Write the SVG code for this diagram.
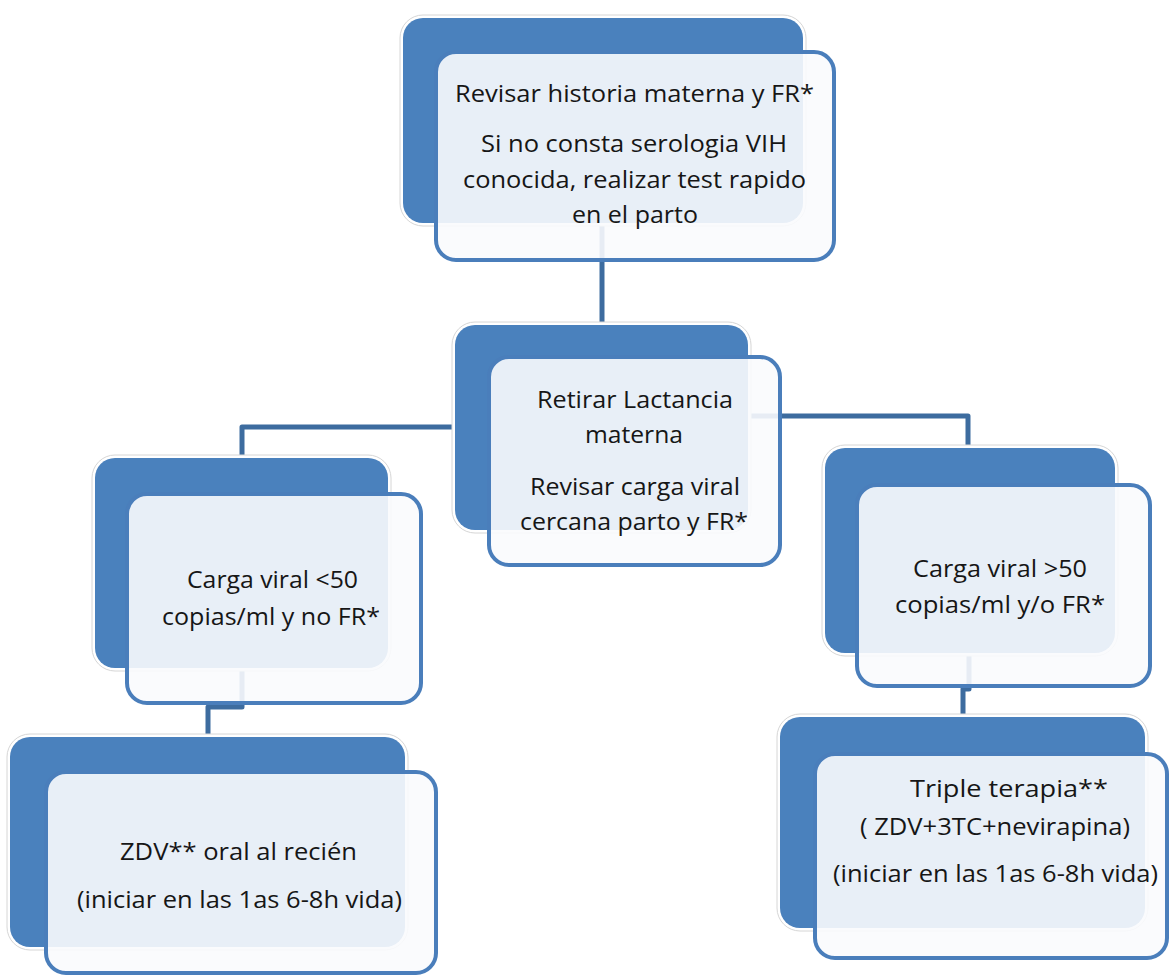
<svg xmlns="http://www.w3.org/2000/svg" width="1171" height="978" viewBox="0 0 1171 978">
<style>
.halo{fill:#ffffff;stroke:#d6d6d6;stroke-width:1}
.back{fill:#4a81bd;stroke:none}
.front{fill:#fafbfd;fill-opacity:0.9;stroke:#4a7ebb;stroke-width:4}
.conn{fill:none;stroke:#3d6c9f;stroke-width:5;stroke-linejoin:round}
text{font-family:"Open Sans","Noto Sans","Liberation Sans",sans-serif;font-size:23px;fill:#161616;text-anchor:middle}
</style>
<rect width="1171" height="978" fill="#ffffff"/>
<g id="connectors">
<path class="conn" d="M602,223 V325"/>
<path class="conn" d="M455,427 H242 V458"/>
<path class="conn" d="M748,416 H968 V448"/>
<path class="conn" d="M242,668 V707 H208 V737"/>
<path class="conn" d="M969,653 V689 H963 V717"/>
</g>
<g id="n1">
<rect class="halo" x="400" y="15" width="406" height="211" rx="23"/>
<rect class="back" x="403" y="18" width="400" height="205" rx="20"/>
<rect class="front" x="436" y="52" width="398" height="208" rx="20"/>
<text x="634.5" y="102" textLength="359" lengthAdjust="spacingAndGlyphs">Revisar historia materna y FR*</text>
<text x="634" y="152" textLength="306" lengthAdjust="spacingAndGlyphs">Si no consta serologia VIH</text>
<text x="634.5" y="188" textLength="343" lengthAdjust="spacingAndGlyphs">conocida, realizar test rapido</text>
<text x="635" y="223" textLength="126" lengthAdjust="spacingAndGlyphs">en el parto</text>
</g>
<g id="n2">
<rect class="halo" x="452" y="322" width="299" height="211" rx="23"/>
<rect class="back" x="455" y="325" width="293" height="205" rx="20"/>
<rect class="front" x="489" y="357" width="291" height="208" rx="20"/>
<text x="635" y="408" textLength="196" lengthAdjust="spacingAndGlyphs">Retirar Lactancia</text>
<text x="634" y="443" textLength="98" lengthAdjust="spacingAndGlyphs">materna</text>
<text x="635" y="495" textLength="210" lengthAdjust="spacingAndGlyphs">Revisar carga viral</text>
<text x="634" y="530" textLength="228" lengthAdjust="spacingAndGlyphs">cercana parto y FR*</text>
</g>
<g id="n3">
<rect class="halo" x="92" y="455" width="299" height="216" rx="23"/>
<rect class="back" x="95" y="458" width="293" height="210" rx="20"/>
<rect class="front" x="127" y="494" width="294" height="209" rx="20"/>
<text x="272.5" y="588" textLength="171" lengthAdjust="spacingAndGlyphs">Carga viral &lt;50</text>
<text x="271" y="625" textLength="218" lengthAdjust="spacingAndGlyphs">copias/ml y no FR*</text>
</g>
<g id="n4">
<rect class="halo" x="822" y="445" width="296" height="211" rx="23"/>
<rect class="back" x="825" y="448" width="290" height="205" rx="20"/>
<rect class="front" x="857" y="485" width="293" height="201" rx="20"/>
<text x="1000" y="577" textLength="174" lengthAdjust="spacingAndGlyphs">Carga viral &gt;50</text>
<text x="1000" y="613" textLength="210" lengthAdjust="spacingAndGlyphs">copias/ml y/o FR*</text>
</g>
<g id="n5">
<rect class="halo" x="7" y="734" width="401" height="216" rx="23"/>
<rect class="back" x="10" y="737" width="395" height="210" rx="20"/>
<rect class="front" x="46" y="772" width="390" height="201" rx="20"/>
<text x="238.5" y="860" textLength="237" lengthAdjust="spacingAndGlyphs">ZDV** oral al recién</text>
<text x="239.5" y="908" textLength="325" lengthAdjust="spacingAndGlyphs">(iniciar en las 1as 6-8h vida)</text>
</g>
<g id="n6">
<rect class="halo" x="777" y="714" width="371" height="217" rx="23"/>
<rect class="back" x="780" y="717" width="365" height="211" rx="20"/>
<rect class="front" x="815" y="754" width="352" height="204" rx="20"/>
<text x="1009" y="797" textLength="198" lengthAdjust="spacingAndGlyphs">Triple terapia**</text>
<text x="995" y="835" textLength="270" lengthAdjust="spacingAndGlyphs">( ZDV+3TC+nevirapina)</text>
<text x="995.5" y="882" textLength="325" lengthAdjust="spacingAndGlyphs">(iniciar en las 1as 6-8h vida)</text>
</g>
</svg>
